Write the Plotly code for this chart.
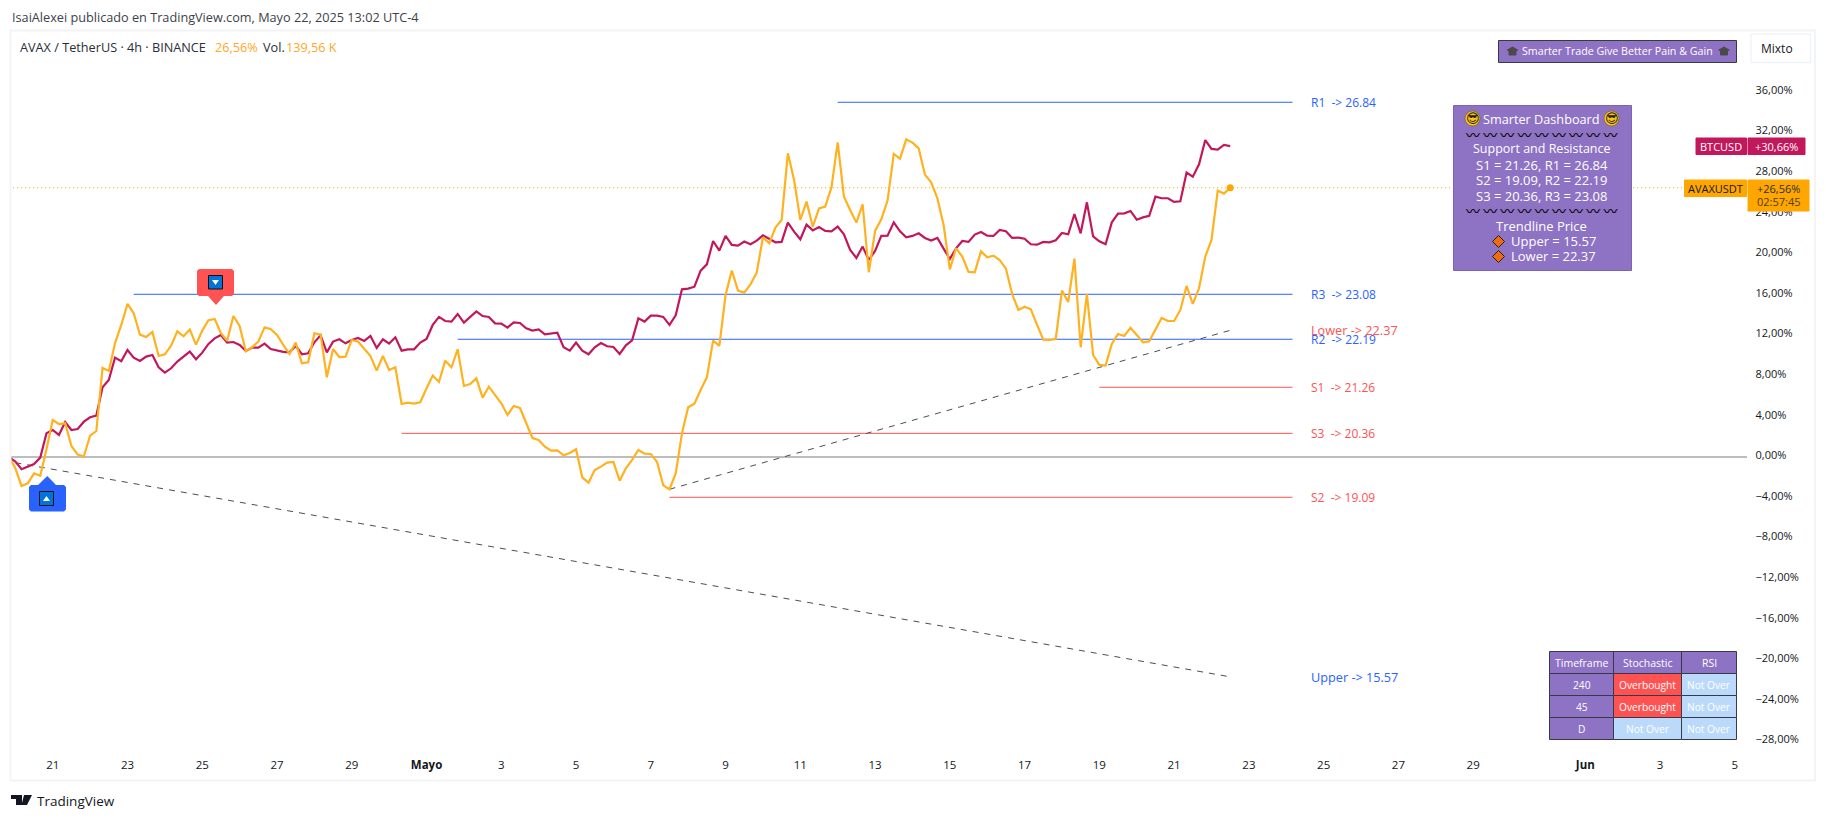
import pandas as pd
import plotly.graph_objects as go

W = 1826
H = 820

# valores, % desde el inicio, una barra cada 4h
btc_pct = [
    0.00, -0.43, -1.18, -0.92, -0.66, -0.03, 2.36, 2.69, 2.20, 3.48, 2.69, 2.79, 3.51, 3.94, 4.11, 6.90,
    7.62, 9.82, 9.46, 10.57, 9.82, 9.49, 9.92, 10.08, 8.87, 8.34, 8.77, 9.43, 9.95, 10.41, 9.66, 10.31,
    11.17, 11.72, 12.05, 11.30, 11.36, 11.07, 10.48, 10.80, 10.80, 11.20, 10.67, 10.51, 10.38, 10.34, 10.97, 10.15,
    10.25, 11.33, 12.02, 10.34, 11.40, 11.63, 11.23, 11.56, 11.76, 11.46, 11.95, 10.77, 11.63, 11.20, 11.82, 10.51,
    10.64, 10.64, 11.30, 11.66, 13.04, 13.83, 13.43, 13.37, 14.12, 13.27, 13.86, 14.38, 13.92, 13.83, 13.20, 13.17,
    12.78, 13.30, 13.23, 12.71, 12.48, 12.61, 12.12, 12.18, 12.28, 10.84, 10.51, 11.30, 10.51, 10.15, 10.84, 11.26,
    10.94, 10.87, 10.18, 11.03, 11.53, 13.69, 13.37, 13.96, 13.96, 13.83, 13.04, 13.99, 16.55, 16.62, 16.81, 18.39,
    19.01, 21.31, 20.36, 21.81, 20.92, 20.85, 21.25, 20.99, 21.35, 21.87, 21.51, 21.18, 21.22, 23.12, 22.23, 21.48,
    22.92, 22.36, 22.69, 22.30, 22.27, 22.73, 21.97, 20.43, 19.64, 20.76, 19.44, 20.33, 21.81, 21.84, 23.15, 22.27,
    21.67, 21.81, 22.07, 21.61, 21.35, 21.61, 20.56, 19.54, 20.59, 21.31, 21.22, 21.94, 22.20, 21.84, 21.81, 22.40,
    22.27, 21.61, 21.64, 21.54, 20.99, 20.95, 21.22, 21.18, 21.38, 22.10, 21.97, 23.97, 22.07, 25.12, 21.77, 21.28,
    20.99, 23.15, 24.01, 24.04, 24.27, 23.41, 23.64, 23.78, 25.68, 25.52, 25.52, 25.16, 25.22, 28.05, 27.65, 28.87,
    31.26, 30.38, 30.31, 30.77, 30.66,
]
avax_pct = [
    0.00, -1.08, -2.82, -2.56, -1.58, -1.81, 0.79, 3.68, 3.28, 3.35, 1.12, 0.26, 0.10, 2.13, 2.59, 8.80,
    8.51, 11.23, 13.04, 15.11, 14.19, 12.09, 11.86, 12.35, 9.98, 10.15, 11.00, 12.41, 11.92, 12.58, 11.10, 12.48,
    13.50, 13.63, 12.22, 11.49, 13.92, 12.94, 10.44, 10.84, 11.40, 12.81, 12.61, 12.05, 11.07, 10.18, 11.30, 9.26,
    9.36, 12.22, 12.09, 7.88, 10.67, 9.88, 9.92, 11.56, 11.40, 10.74, 9.98, 8.54, 9.98, 8.60, 8.87, 5.25,
    5.39, 5.29, 5.42, 6.80, 8.05, 7.42, 9.52, 8.87, 10.64, 7.03, 7.22, 7.78, 5.88, 6.96, 6.11, 5.32,
    4.17, 5.06, 4.86, 3.35, 1.90, 1.71, 1.05, 0.66, 0.69, 0.20, 0.43, 0.79, -1.97, -2.50, -1.25, -0.92,
    -0.53, -0.46, -2.30, -1.08, -0.26, 0.72, 0.36, 0.33, -0.46, -2.76, -3.15, -1.58, 2.36, 4.93, 5.29, 6.63,
    7.88, 11.49, 10.97, 15.99, 18.39, 16.42, 16.22, 17.04, 18.19, 21.67, 21.08, 22.63, 23.38, 29.95, 27.32, 23.38,
    25.19, 22.73, 24.53, 24.70, 26.60, 31.03, 25.68, 24.37, 23.12, 24.93, 18.23, 22.30, 23.45, 25.29, 29.89, 29.43,
    31.33, 31.00, 30.44, 27.85, 27.09, 25.52, 22.89, 18.52, 20.59, 19.77, 18.26, 18.23, 20.30, 19.70, 19.87, 19.44,
    18.59, 16.09, 14.52, 14.84, 14.58, 13.04, 11.59, 11.56, 11.66, 16.42, 15.30, 19.57, 10.84, 16.09, 10.08, 9.10,
    9.03, 11.17, 12.15, 11.95, 12.77, 12.05, 11.33, 11.43, 12.54, 13.73, 13.43, 13.43, 14.52, 16.88, 15.11, 16.65,
    19.77, 21.41, 26.27, 25.98, 26.56,
]

# niveles: nombre, precio, % en el eje, barra donde empieza
level_names = ["R1", "R3", "R2", "S1", "S3", "S2"]
level_prices = ["26.84", "23.08", "22.19", "21.26", "20.36", "19.09"]
level_pct = [34.98, 16.06, 11.63, 6.90, 2.36, -3.94]
level_start = [133, 20, 72, 175, 63, 106]
level_colors = ["#2962ff", "#2962ff", "#2962ff", "#ff5252", "#ff5252", "#ff5252"]
level_end = 206
label_bar = 209
price_line_end = 269

# lineas de tendencia (barra inicial, barra final)
upper_bars = [1, 196]
upper_pct = [-0.53, -21.63]
lower_bars = [106, 196]
lower_pct = [-3.15, 12.51]

y_ticks = [36, 32, 28, 24, 20, 16, 12, 8, 4, 0, -4, -8, -12, -16, -20, -24, -28]
x_tick_dates = ["2025-04-21", "2025-04-23", "2025-04-25", "2025-04-27", "2025-04-29", "2025-05-01", "2025-05-03",
                "2025-05-05", "2025-05-07", "2025-05-09", "2025-05-11", "2025-05-13", "2025-05-15", "2025-05-17",
                "2025-05-19", "2025-05-21", "2025-05-23", "2025-05-25", "2025-05-27", "2025-05-29", "2025-06-01",
                "2025-06-03", "2025-06-05"]
x_tick_labels = ["21", "23", "25", "27", "29", "<b>Mayo</b>", "3", "5", "7", "9", "11", "13", "15", "17", "19", "21",
                 "23", "25", "27", "29", "<b>Jun</b>", "3", "5"]

table_head = ["Timeframe", "Stochastic", "RSI"]
table_rows = [["240", "Overbought", "Not Over"], ["45", "Overbought", "Not Over"], ["D", "Not Over", "Not Over"]]

FONT = "Open Sans"
PURPLE = "#8e72c4"
DARK = "#363a45"
AMBER = "#ffb11f"
CRIMSON = "#c2185b"

bars = pd.date_range("2025-04-19 20:00", periods=price_line_end + 1, freq="4h")


# la pagina entera como paper: pixeles de la captura a coordenadas paper
def px(x):
    return x / W


def py(y):
    return 1 - y / H


fig = go.Figure()


def box(x0, y0, x1, y1, fill, line=None, lw=1):
    fig.add_shape(type="rect", xref="paper", yref="paper", x0=px(x0), y0=py(y0), x1=px(x1), y1=py(y1),
                  fillcolor=fill, line=dict(color=line or fill, width=lw), layer="above")


def poly(points, fill, line=None, lw=0):
    path = "M " + " L ".join(f"{px(a):.5f},{py(b):.5f}" for a, b in points) + " Z"
    fig.add_shape(type="path", xref="paper", yref="paper", path=path, fillcolor=fill,
                  line=dict(color=line or fill, width=lw), layer="above")


def label(x, y, text, color="#ffffff", size=12, anchor="center", family=FONT):
    fig.add_annotation(xref="paper", yref="paper", x=px(x), y=py(y), text=text, showarrow=False,
                       xanchor=anchor, yanchor="middle", font=dict(family=family, size=size, color=color),
                       borderpad=0, borderwidth=0)


def smiley(cx, cy):
    fig.add_shape(type="circle", xref="paper", yref="paper", x0=px(cx - 7.5), y0=py(cy - 7.5), x1=px(cx + 7.5),
                  y1=py(cy + 7.5), fillcolor="#fcc21b", line=dict(color="#5a4a10", width=0.5), layer="above")
    label(cx, cy, "😎", "#222222", 13, family="DejaVu Sans")


# lineas de precio
for name, price, pct, start, color in zip(level_names, level_prices, level_pct, level_start, level_colors):
    fig.add_trace(go.Scatter(x=[bars[start], bars[level_end]], y=[pct, pct], mode="lines",
                             line=dict(color=color, width=1), hoverinfo="skip"))
    fig.add_annotation(x=bars[label_bar], y=pct, text=f"{name}  -&gt; {price}", showarrow=False, xanchor="left",
                       xshift=-2, font=dict(family=FONT, size=12, color=color))

fig.add_annotation(x=bars[label_bar], y=12.52, text="Lower -&gt; 22.37", showarrow=False, xanchor="left", xshift=-2,
                   font=dict(family=FONT, size=12.7, color="#ff5252"))
fig.add_annotation(x=bars[label_bar], y=-21.63, text="Upper -&gt; 15.57", showarrow=False, xanchor="left", xshift=-2,
                   font=dict(family=FONT, size=12.7, color="#2962ff"))

# tendencias
for tb, tv in ((upper_bars, upper_pct), (lower_bars, lower_pct)):
    fig.add_trace(go.Scatter(x=[bars[i] for i in tb], y=tv, mode="lines",
                             line=dict(color="#4a4d58", width=1, dash="6px,6px"), hoverinfo="skip"))

# precio actual punteado
fig.add_trace(go.Scatter(x=[bars[0], bars[price_line_end]], y=[avax_pct[-1], avax_pct[-1]], mode="lines",
                         line=dict(color="#ffa600", width=1, dash="1px,3px"), hoverinfo="skip"))

fig.add_trace(go.Scatter(x=bars[:len(btc_pct)], y=btc_pct, mode="lines", name="BTCUSD",
                         line=dict(color=CRIMSON, width=2.2)))
fig.add_trace(go.Scatter(x=bars[:len(avax_pct)], y=avax_pct, mode="lines", name="AVAXUSDT",
                         line=dict(color=AMBER, width=2.2)))
fig.add_trace(go.Scatter(x=[bars[len(avax_pct) - 1]], y=[avax_pct[-1]], mode="markers",
                         marker=dict(color="#ffa600", size=7), hoverinfo="skip"))

# marco gris claro
fig.add_shape(type="rect", xref="paper", yref="paper", x0=px(10.5), y0=py(30.5), x1=px(1815), y1=py(780.5),
              fillcolor="rgba(0,0,0,0)", line=dict(color="#f3f4f6", width=2), layer="above")

# cabecera
label(12, 16.5, "IsaiAlexei publicado en TradingView.com, Mayo 22, 2025 13:02 UTC-4", "#3c3f4a", 12.7, "left")
label(20, 46.5, "AVAX / TetherUS · 4h · BINANCE", "#2a2e39", 12.7, "left")
label(215, 46.5, "26,56%", "#ffa726", 12.7, "left")
label(263, 46.5, "Vol.", "#2a2e39", 12.7, "left")
label(286, 46.5, "139,56 K", "#ffa726", 12.7, "left")

# burbuja roja
poly([(199, 269), (232, 269), (234, 271), (234, 294), (232, 296), (224, 296), (216, 305), (208, 296), (199, 296),
      (197, 294), (197, 271)], "#ff5252")
box(208.5, 275.5, 222.5, 289, "#0074d9", "#111111", 1)
poly([(212, 280), (219, 280), (215.5, 285)], "#ffffff")
# burbuja azul
poly([(31, 485), (38, 485), (47.3, 476), (56, 485), (64, 485), (66, 487), (66, 509.5), (64, 511.5), (31, 511.5),
      (29, 509.5), (29, 487)], "#2962ff")
box(39.5, 491.5, 53.5, 505.5, "#0074d9", "#111111", 1)
poly([(43, 501), (50, 501), (46.5, 496)], "#ffffff")

# titulo arriba a la derecha
box(1498.5, 40.5, 1736.5, 62.5, PURPLE, DARK, 1)
label(1617.5, 51, "Smarter Trade Give Better Pain &amp; Gain", "#ffffff", 10.7)
for cx in (1512.5, 1724):
    poly([(cx - 6, 50), (cx, 46.5), (cx + 6, 50), (cx, 53.5)], "#4a4a4a")
    box(cx - 3.5, 51, cx + 3.5, 55, "#4a4a4a")

fig.add_shape(type="rect", xref="paper", yref="paper", x0=px(1751), y0=py(34), x1=px(1810.5), y1=py(62.5),
              fillcolor="#ffffff", line=dict(color="#f0f3fa", width=1.5), layer="above")
label(1777, 48.5, "Mixto", "#131722", 12)

# panel
squiggle = "<b>" + " ".join(["〰"] * 9) + "</b>"
box(1453.5, 105.5, 1631.5, 270.5, PURPLE, "#7e62b8", 1)
smiley(1472.5, 118.5)
smiley(1611.5, 118.5)
label(1541.5, 118.5, "Smarter Dashboard", "#ffffff", 12.7)
label(1541.5, 133.5, squiggle, "#111111", 14, family="Noto Sans CJK JP")
label(1541.5, 148.5, "Support and Resistance", "#ffffff", 12.5)
label(1541.5, 164.5, "S1 = 21.26, R1 = 26.84", "#ffffff", 13)
label(1541.5, 180, "S2 = 19.09, R2 = 22.19", "#ffffff", 13)
label(1541.5, 195.5, "S3 = 20.36, R3 = 23.08", "#ffffff", 13)
label(1541.5, 210, squiggle, "#111111", 14, family="Noto Sans CJK JP")
label(1541.5, 225.5, "Trendline Price", "#ffffff", 13)
for cy, txt in ((241.5, "Upper = 15.57"), (256.5, "Lower = 22.37")):
    poly([(1492.5, cy), (1498.5, cy - 6), (1504.5, cy), (1498.5, cy + 6)], "#f26a0f", "#222222", 1)
    label(1510.5, cy, txt, "#ffffff", 13, "left")

# tabla
col_x = [1549.5, 1613.5, 1681.5, 1736.5]
row_y = [651.5, 673.5, 695.5, 717.5, 739.5]
for j, head in enumerate(table_head):
    box(col_x[j], row_y[0], col_x[j + 1], row_y[1], PURPLE, DARK, 1)
    label((col_x[j] + col_x[j + 1]) / 2, (row_y[0] + row_y[1]) / 2, head, "#ffffff", 10.5)
for i, row in enumerate(table_rows):
    for j, cell in enumerate(row):
        fill = PURPLE if j == 0 else "#ff5252" if cell == "Overbought" else "#bbdafb"
        box(col_x[j], row_y[i + 1], col_x[j + 1], row_y[i + 2], fill, DARK, 1)
        label((col_x[j] + col_x[j + 1]) / 2, (row_y[i + 1] + row_y[i + 2]) / 2, cell, "#ffffff", 10.2)

# etiquetas de precio en el eje
box(1696, 138, 1746.5, 154.5, CRIMSON)
box(1748, 138, 1805, 154.5, CRIMSON)
label(1721, 146.5, "BTCUSD", "#ffffff", 11)
label(1776.5, 146.5, "+30,66%", "#ffffff", 11)
box(1684.5, 180, 1746.5, 196.5, "#ffa600")
box(1748, 180, 1809, 211, "#ffa600")
label(1715.5, 188.5, "AVAXUSDT", "#131722", 11)
label(1778.5, 188.5, "+26,56%", "#2a2e39", 11)
label(1778.5, 201.5, "02:57:45", "#50400a", 11)

# logo TradingView
poly([(11, 795), (22, 795), (22, 805), (16, 805), (16, 799), (11, 799)], "#131722")
poly([(24, 795), (32, 795), (27, 805), (21.5, 805)], "#131722")
label(37, 801, "TradingView", "#131722", 13.5, "left")

fig.update_layout(
    width=W,
    height=H,
    margin=dict(l=0, r=0, t=0, b=0),
    paper_bgcolor="#ffffff",
    plot_bgcolor="#ffffff",
    showlegend=False,
    font=dict(family=FONT, size=12, color="#131722"),
    xaxis=dict(
        domain=[px(11), px(1746.5)],
        range=["2025-04-19 21:13", "2025-06-05 07:30"],
        tickmode="array",
        tickvals=x_tick_dates,
        ticktext=x_tick_labels,
        showgrid=False,
        zeroline=False,
        showline=False,
        ticks="",
        ticklen=0,
        tickangle=0,
        ticklabelstandoff=6,
        tickfont=dict(family=FONT, size=11.5, color="#131722"),
    ),
    yaxis=dict(
        domain=[py(750), py(32)],
        range=[(457.3 - 750) / 10.15, (457.3 - 32) / 10.15],
        side="right",
        tickmode="array",
        tickvals=y_ticks,
        ticktext=[f"{v:,.2f}%".replace(".", ",").replace("-", "−") for v in y_ticks],
        showgrid=False,
        zeroline=True,
        zerolinecolor="#bdbdbd",
        zerolinewidth=1.5,
        showline=False,
        ticks="",
        ticklabelstandoff=8,
        ticklabelshift=-2,
        tickfont=dict(family=FONT, size=11, color="#131722"),
    ),
)

fig.write_html("out.html", config={"displayModeBar": False}, post_script="document.body.style.margin='0';")
